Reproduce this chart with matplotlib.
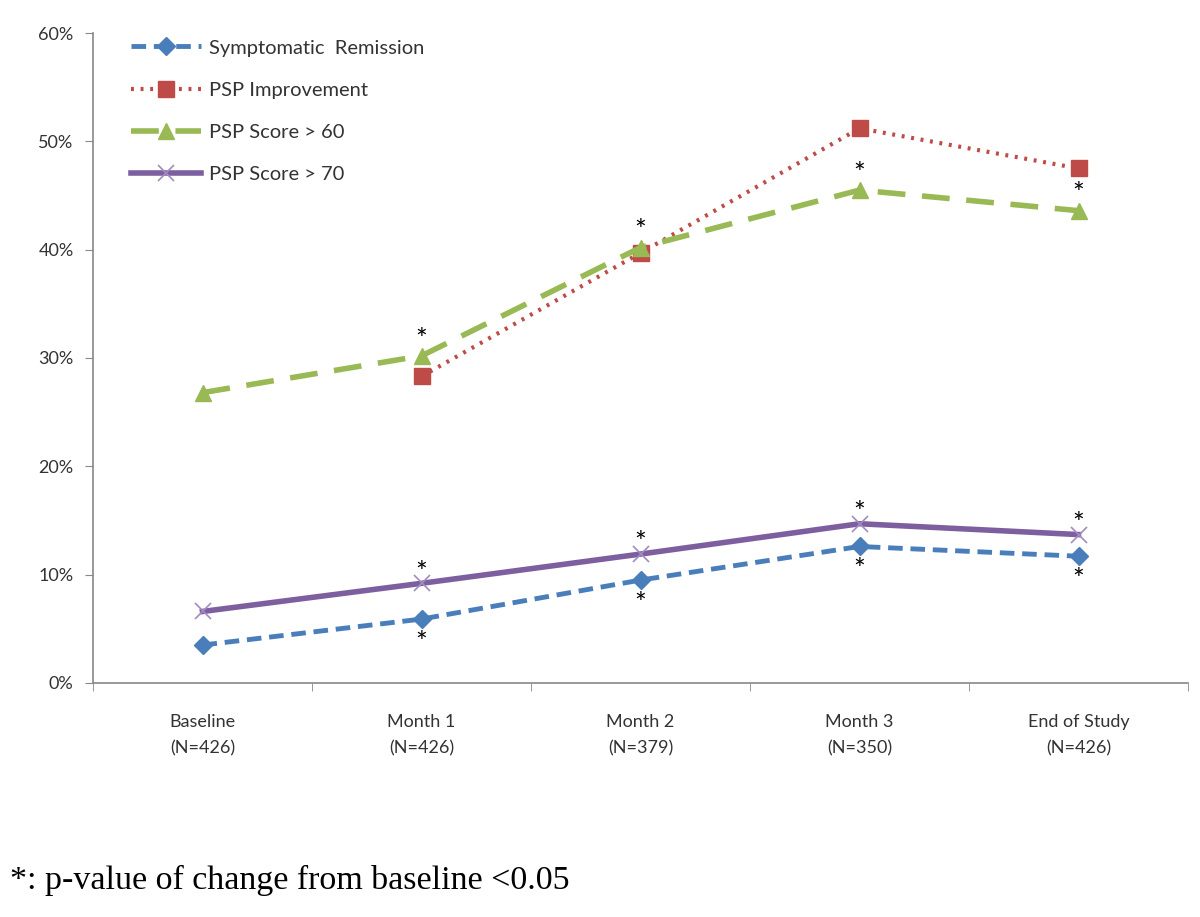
import matplotlib
import matplotlib.pyplot as plt
import numpy as np

matplotlib.rc('font', family='Lato', size=13)

categories = ['Baseline\n(N=426)', 'Month 1\n(N=426)', 'Month 2\n(N=379)',
              'Month 3\n(N=350)', 'End of Study\n(N=426)']
remission = [3.5, 5.9, 9.5, 12.6, 11.7]
psp_improve = [None, 28.3, 39.7, 51.2, 47.5]
psp_60 = [26.8, 30.2, 40.2, 45.5, 43.6]
psp_70 = [6.6, 9.2, 11.9, 14.7, 13.7]

# indices with significant change from baseline
star_rem = [1, 2, 3, 4]
star_60 = [1, 2, 3, 4]
star_70 = [1, 2, 3, 4]

x = np.arange(len(categories))

fig = plt.figure(figsize=(12, 9.17), dpi=100)
ax = fig.add_axes([0.0775, 0.2552, 0.9125, 0.7088])

ax.plot(x, remission, color='#4a7ebb', lw=3.5, ls=(0, (3, 1.6)), marker='D',
        ms=9, label='Symptomatic  Remission')
xi = [i for i, v in enumerate(psp_improve) if v is not None]
ax.plot(xi, [psp_improve[i] for i in xi], color='#be4b48', lw=3, ls=(0, (0.7, 1.6)),
        marker='s', ms=12, label='PSP Improvement')
ax.plot(x, psp_60, color='#98b954', lw=4, ls=(0, (5, 3)), marker='^', ms=12,
        label='PSP Score > 60')
ax.plot(x, psp_70, color='#7d5fa0', lw=4, marker='x', ms=12, mew=1.2,
        mec='#a08cc0', label='PSP Score > 70')

def star(xv, yv, dy):
    ax.annotate('*', (xv, yv), xytext=(0, dy), textcoords='offset points',
                ha='center', va='center', fontsize=20)

for i in star_rem:
    star(x[i], remission[i], -18)
for i in star_60:
    star(x[i], psp_60[i], 11)
for i in star_70:
    star(x[i], psp_70[i], 7)

ax.set_xlim(-0.5, 4.5)
ax.set_ylim(0, 60)
ax.set_yticks(np.arange(0, 61, 10))
ax.set_yticklabels([f'{v}%' for v in range(0, 61, 10)], color='#333333')
ax.set_xticks(x)
ax.set_xticklabels(categories, linespacing=1.85, color='#333333')
ax.set_xticks(np.arange(-0.5, 5, 1), minor=True)
ax.tick_params(axis='x', which='major', length=0, pad=22)
ax.tick_params(axis='x', which='minor', length=6, color='#888888')
ax.tick_params(axis='y', length=6, color='#888888', pad=8)
for s in ['top', 'right']:
    ax.spines[s].set_visible(False)
for s in ['left', 'bottom']:
    ax.spines[s].set_color('#888888')
    ax.spines[s].set_linewidth(1.2)

ax.legend(loc='upper left', bbox_to_anchor=(0.018, 1.018), frameon=False,
          labelspacing=1.25, handlelength=3.5, handletextpad=0.4, fontsize=14.5,
          labelcolor='#333333')

fig.text(0.008, 0.03, '*: p-value of change from baseline <0.05',
         family='Liberation Serif', fontsize=24.5, va='baseline')

fig.savefig('out.png', dpi=100)
